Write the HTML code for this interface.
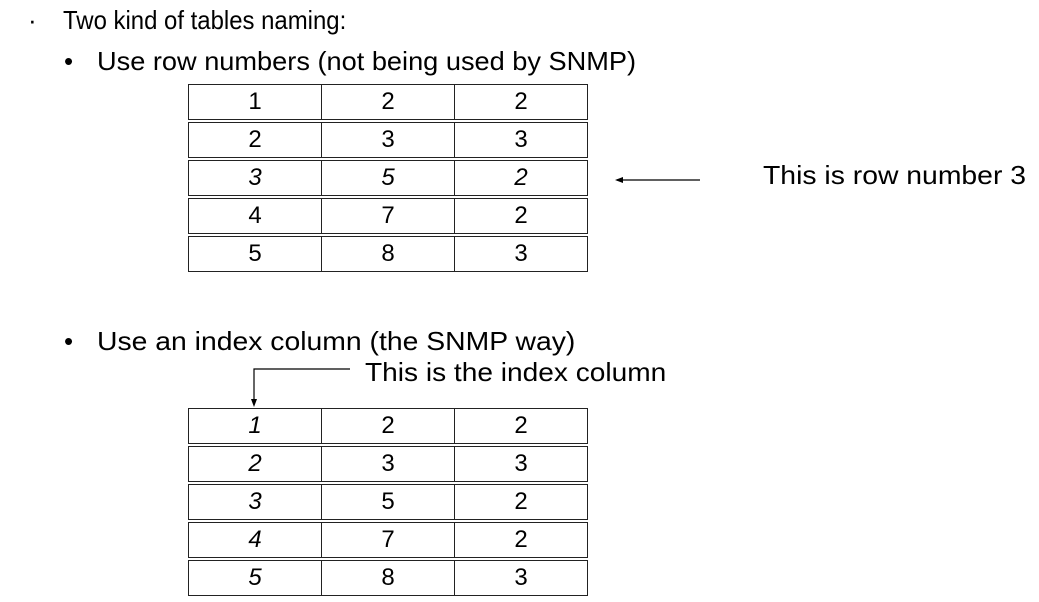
<!DOCTYPE html>
<html><head><style>
body{margin:0;width:1039px;height:602px;background:#fff;position:relative;font-family:"Liberation Sans",Arial,sans-serif;color:#000;overflow:hidden}
.t{position:absolute;font-size:26px;white-space:nowrap;line-height:1;transform-origin:0 0}
.row{position:absolute;left:188px;width:400px;height:36px;border:1.5px solid #222;box-sizing:border-box;display:flex}
.row div{flex:1;text-align:center;font-size:24px;line-height:33px;border-left:1.5px solid #222}
.row div:first-child{border-left:none}
i{font-style:italic}
</style></head><body>
<div class="t" style="left:28px;top:7px">·</div>
<div class="t" style="left:63px;top:7px;transform:scaleX(0.92)">Two kind of tables naming:</div>
<div class="t" style="left:64px;top:48px">•</div>
<div class="t" style="left:97px;top:48px;transform:scaleX(1.045)">Use row numbers (not being used by SNMP)</div>

<div class="row" style="top:84px"><div>1</div><div>2</div><div>2</div></div>
<div class="row" style="top:122px"><div>2</div><div>3</div><div>3</div></div>
<div class="row" style="top:160px"><div><i>3</i></div><div><i>5</i></div><div><i>2</i></div></div>
<div class="row" style="top:198px"><div>4</div><div>7</div><div>2</div></div>
<div class="row" style="top:236px"><div>5</div><div>8</div><div>3</div></div>

<div class="t" style="left:763px;top:162px;transform:scaleX(1.09)">This is row number 3</div>

<div class="t" style="left:64px;top:328px">•</div>
<div class="t" style="left:97px;top:328px;transform:scaleX(1.09)">Use an index column (the SNMP way)</div>
<div class="t" style="left:365px;top:359px;transform:scaleX(1.08)">This is the index column</div>

<svg width="1039" height="602" style="position:absolute;left:0;top:0">
<line x1="617" y1="180" x2="700" y2="180" stroke="#000" stroke-width="1.2"/>
<polygon points="615,180 623,177 623,183" fill="#000"/>
<polyline points="350,369 254,369 254,402" fill="none" stroke="#000" stroke-width="1.2"/>
<polygon points="254,407 251,399 257,399" fill="#000"/>
</svg>

<div class="row" style="top:408px"><div><i>1</i></div><div>2</div><div>2</div></div>
<div class="row" style="top:446px"><div><i>2</i></div><div>3</div><div>3</div></div>
<div class="row" style="top:484px"><div><i>3</i></div><div>5</div><div>2</div></div>
<div class="row" style="top:522px"><div><i>4</i></div><div>7</div><div>2</div></div>
<div class="row" style="top:560px"><div><i>5</i></div><div>8</div><div>3</div></div>
</body></html>
